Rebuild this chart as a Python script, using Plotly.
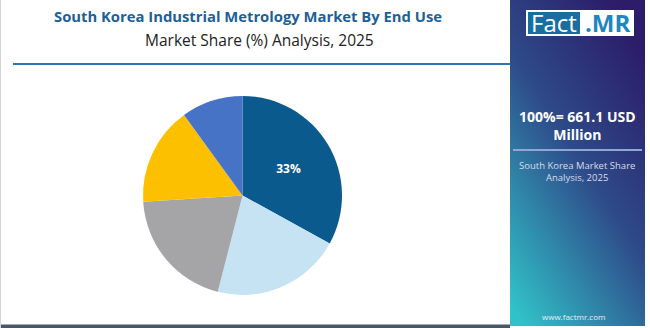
import base64
import plotly.graph_objects as go

# ---- data ----
categories = ["Automotive", "Aerospace & Defense", "Semiconductor & Electronics", "Industrial Manufacturing", "Others"]
shares = [33, 21, 20, 16, 10]
colors = ["#0B5A8E", "#C6E3F4", "#A5A5A7", "#FDC000", "#4673C6"]
labels_shown = ["33%", "", "", "", ""]

title_main = "South Korea Industrial Metrology Market By End Use"
title_sub = "Market Share (%) Analysis, 2025"
total_text = "100%= 661.1 USD<br>Million"
panel_sub = "South Korea Market Share<br>Analysis, 2025"
site = "www.factmr.com"

W, H = 650, 328

def px(x):
    return x / W

def py(y):
    return 1 - y / H

fig = go.Figure()

cx, cy, r = 242.5, 195.5, 99.5
fig.add_trace(go.Pie(
    labels=categories,
    values=shares,
    text=labels_shown,
    textinfo="text",
    textposition="inside",
    insidetextorientation="horizontal",
    textfont=dict(color="white", size=12, family="Open Sans", weight="bold"),
    marker=dict(colors=colors, line=dict(width=0)),
    sort=False,
    direction="clockwise",
    rotation=0,
    showlegend=False,
    hoverinfo="label+percent",
    domain=dict(x=[px(cx - r), px(cx + r)], y=[py(cy + r), py(cy - r)]),
))

# gradient panel via svg image
svg = f"""<svg xmlns='http://www.w3.org/2000/svg' width='135' height='326' viewBox='0 0 135 326' preserveAspectRatio='none'>
<defs><linearGradient id='g' x1='0.75' y1='0' x2='0.1' y2='1'>
<stop offset='0' stop-color='#2C1C69'/>
<stop offset='0.45' stop-color='#2E4A89'/>
<stop offset='1' stop-color='#31C2C8'/>
</linearGradient></defs>
<rect width='135' height='326' fill='url(#g)'/></svg>"""
src = "data:image/svg+xml;base64," + base64.b64encode(svg.encode()).decode()

fig.update_layout(
    width=W, height=H,
    margin=dict(l=0, r=0, t=0, b=0),
    paper_bgcolor="white",
    plot_bgcolor="white",
    images=[dict(source=src, xref="paper", yref="paper", x=px(510), y=1,
                 sizex=px(645) - px(510), sizey=326 / H, sizing="stretch",
                 layer="below", xanchor="left", yanchor="top")],
    shapes=[
        # rule under title
        dict(type="line", xref="paper", yref="paper", x0=px(13), x1=px(510),
             y0=py(64), y1=py(64), line=dict(color="#2A78AE", width=2)),
        # bottom dark line
        dict(type="rect", xref="paper", yref="paper", x0=0, x1=px(510),
             y0=0, y1=py(324.5), fillcolor="#4A5866", line=dict(width=0)),
        # left faint edge
        dict(type="line", xref="paper", yref="paper", x0=px(0.5), x1=px(0.5),
             y0=0, y1=1, line=dict(color="#D5D5D5", width=1)),
        # logo
        dict(type="rect", xref="paper", yref="paper", x0=px(526), x1=px(634),
             y0=py(36), y1=py(10), fillcolor="white", line=dict(width=0)),
        dict(type="rect", xref="paper", yref="paper", x0=px(528), x1=px(580),
             y0=py(34), y1=py(12), fillcolor="#1A6E9F", line=dict(width=0)),
        # separator in panel
        dict(type="line", xref="paper", yref="paper", x0=px(513), x1=px(642),
             y0=py(150), y1=py(150), line=dict(color="#8EA7D3", width=2)),
    ],
    annotations=[
        dict(text=f"<b>{title_main}</b>", x=px(248), y=py(16), xref="paper", yref="paper",
             showarrow=False, xanchor="center", yanchor="middle",
             font=dict(family="Open Sans", size=14.8, color="#1D5F98")),
        dict(text=title_sub, x=px(259), y=py(40), xref="paper", yref="paper",
             showarrow=False, xanchor="center", yanchor="middle",
             font=dict(family="Open Sans", size=15.5, color="#222222")),
        dict(text="Fact", x=px(554), y=py(23), xref="paper", yref="paper",
             showarrow=False, xanchor="center", yanchor="middle",
             font=dict(family="Open Sans", size=24, color="white")),
        dict(text="<b>.MR</b>", x=px(607), y=py(23), xref="paper", yref="paper",
             showarrow=False, xanchor="center", yanchor="middle",
             font=dict(family="Open Sans", size=24, color="#1E86C0")),
        dict(text=f"<b>{total_text}</b>", x=px(577), y=py(125), xref="paper", yref="paper",
             showarrow=False, xanchor="center", yanchor="middle",
             font=dict(family="Open Sans", size=14, color="white")),
        dict(text=panel_sub, x=px(577), y=py(171), xref="paper", yref="paper",
             showarrow=False, xanchor="center", yanchor="middle",
             font=dict(family="Open Sans", size=9.5, color="#D6DDEB")),
        dict(text=site, x=px(573), y=py(316), xref="paper", yref="paper",
             showarrow=False, xanchor="center", yanchor="middle",
             font=dict(family="Open Sans", size=8, color="#E6EEF4")),
    ],
)

fig.write_html("out.html")
